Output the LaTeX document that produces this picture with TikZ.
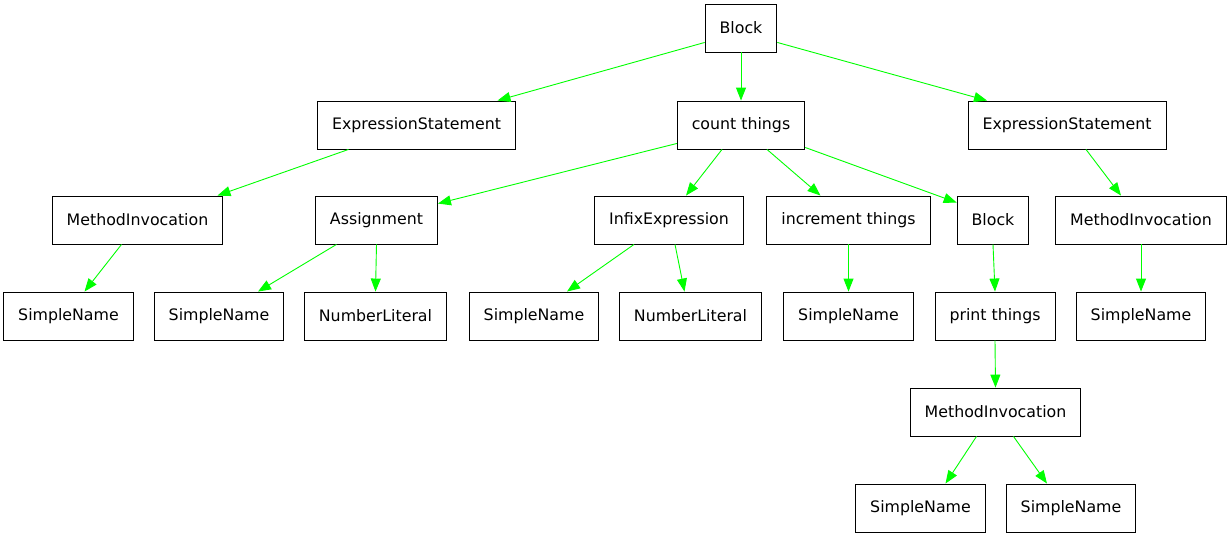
\documentclass[tikz,border=0pt]{standalone}
\usepackage{fontspec}
\setmainfont{DejaVu Sans}
\usetikzlibrary{arrows.meta}
\definecolor{edgegreen}{RGB}{0,255,0}
\tikzset{
    ast/.style={draw, line width=0.9pt, rectangle, minimum height=48pt,
        inner xsep=14.5pt, font=\fontsize{15.8}{19}\selectfont},
    edge/.style={draw=edgegreen, line width=0.9pt,
        -{Triangle[length=13pt, width=10pt, fill=edgegreen]}}
}
\begin{document}
\begin{tikzpicture}[x=1pt, y=-1pt]
        \useasboundingbox (0,0) rectangle (1232,539);

        % nodes, row by row
        \node[ast] (blk) at (741,28) {Block};

        \node[ast] (es1) at (416.5,125) {ExpressionStatement};
        \node[ast] (cnt) at (741,125) {count things};
        \node[ast] (es2) at (1067,125) {ExpressionStatement};

        \node[ast] (mi1) at (137.5,220) {MethodInvocation};
        \node[ast] (asg) at (376.5,220) {Assignment};
        \node[ast] (inf) at (669,220) {InfixExpression};
        \node[ast] (inc) at (848.5,220) {increment things};
        \node[ast] (blk2) at (993,220) {Block};
        \node[ast] (mi2) at (1141,220) {MethodInvocation};

        \node[ast] (sn1) at (68.5,316) {SimpleName};
        \node[ast] (sn2) at (219,316) {SimpleName};
        \node[ast] (nl1) at (375.5,316) {NumberLiteral};
        \node[ast] (sn3) at (534,316) {SimpleName};
        \node[ast] (nl2) at (690.5,316) {NumberLiteral};
        \node[ast] (sn4) at (848.5,316) {SimpleName};
        \node[ast] (pr) at (995,316) {print things};
        \node[ast] (sn5) at (1141,316) {SimpleName};

        \node[ast] (mi3) at (995.5,412) {MethodInvocation};

        \node[ast] (sn6) at (920.5,508) {SimpleName};
        \node[ast] (sn7) at (1071,508) {SimpleName};

        % edges
        \draw[edge] ([yshift=10pt]blk.south west) -- ([xshift=81pt]es1.north);
        \draw[edge] (blk.south) -- (cnt.north);
        \draw[edge] ([yshift=10pt]blk.south east) -- ([xshift=-80pt]es2.north);

        \draw[edge] ([xshift=-68pt]es1.south) -- ([xshift=80pt]mi1.north);
        \draw[edge] ([yshift=6pt]cnt.south west) -- ([yshift=-8pt]asg.north east);
        \draw[edge] ([xshift=-19pt]cnt.south) -- ([xshift=17pt]inf.north);
        \draw[edge] ([xshift=26pt]cnt.south) -- ([xshift=-28pt]inc.north);
        \draw[edge] ([yshift=2pt]cnt.south east) -- ([yshift=-7pt]blk2.north west);
        \draw[edge] ([xshift=19pt]es2.south) -- ([xshift=-20pt]mi2.north);

        \draw[edge] ([xshift=-16pt]mi1.south) -- ([xshift=16pt]sn1.north);
        \draw[edge] ([xshift=-40pt]asg.south) -- ([xshift=39pt]sn2.north);
        \draw[edge] (asg.south) -- (nl1.north);
        \draw[edge] ([xshift=-35pt]inf.south) -- ([xshift=33pt]sn3.north);
        \draw[edge] ([xshift=6pt]inf.south) -- ([xshift=-6pt]nl2.north);
        \draw[edge] (inc.south) -- (sn4.north);
        \draw[edge] (blk2.south) -- (pr.north);
        \draw[edge] (mi2.south) -- (sn5.north);

        \draw[edge] (pr.south) -- (mi3.north);
        \draw[edge] ([xshift=-19pt]mi3.south) -- ([xshift=25pt]sn6.north);
        \draw[edge] ([xshift=18pt]mi3.south) -- ([xshift=-24pt]sn7.north);

    \end{tikzpicture}
\end{document}
